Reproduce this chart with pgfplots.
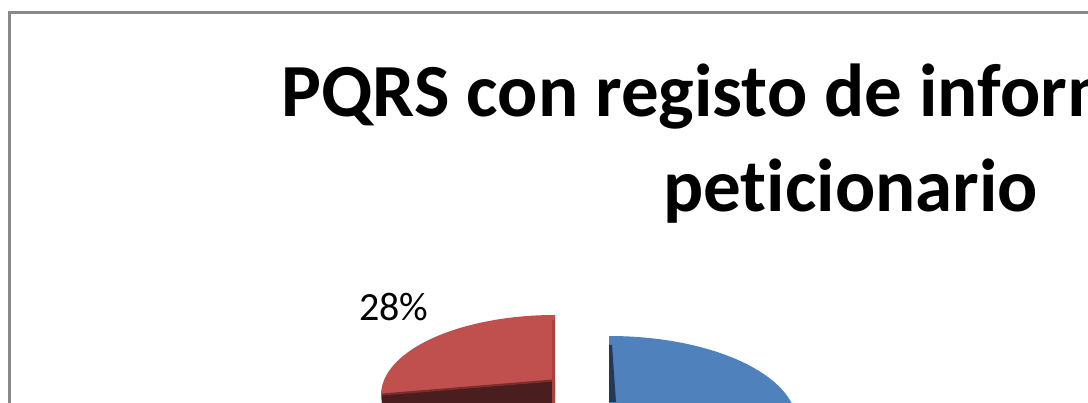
\documentclass[border=0pt]{standalone}
\usepackage{fontspec}
\setmainfont{Carlito}[Ligatures={NoCommon}]
\usepackage{pgfplots}
\usepackage{pgfplotstable}
\pgfplotsset{compat=1.18}
\definecolor{pieRed}{HTML}{C0504D}
\definecolor{pieRedEdge}{HTML}{A8423F}
\definecolor{pieRedDark}{HTML}{4A1E1E}
\definecolor{pieRedMid}{HTML}{7A2F2D}
\definecolor{pieBlue}{HTML}{4F81BD}
\definecolor{pieBlueDark}{HTML}{22395A}
\definecolor{frameGray}{HTML}{898989}

% slice values (percent)
\pgfplotstableread{
slice value
blue 72
red 28
}\piedata
\pgfplotstablegetelem{0}{value}\of\piedata \let\valBlue\pgfplotsretval
\pgfplotstablegetelem{1}{value}\of\piedata \let\valRed\pgfplotsretval
\pgfmathsetmacro\redEnd{90+3.6*\valRed}
\pgfmathsetmacro\blueEnd{90-3.6*\valBlue}

\begin{document}
\begin{tikzpicture}
\path[use as bounding box] (0,0) rectangle (544pt,201pt);
\clip (0,0) rectangle (544pt,201pt);
\begin{axis}[at={(0pt,0pt)}, anchor=south west, scale only axis,
  width=544pt, height=201pt, xmin=0, xmax=1088, ymin=0, ymax=402,
  hide axis, clip=true]
% chart frame
\draw[frameGray, line width=1.5pt] (axis cs:9.5,-200) -- (axis cs:9.5,389.5) -- (axis cs:1300,389.5);
% red slice (exploded), top face
\fill[pieRed] (axis cs:555,87) arc[start angle=90, end angle=\redEnd, x radius=87pt, y radius=40pt]
   -- (axis cs:555,7) -- cycle;
% red slice cut face
\fill[pieRedDark] (axis cs:555,21) -- (axis cs:382,7) -- (axis cs:382,-40) -- (axis cs:555,-40) -- cycle;
\draw[pieRedMid, line width=1pt] (axis cs:382,7.5) -- (axis cs:553,21.5);
\fill[pieRedEdge] (axis cs:552,82) rectangle (axis cs:555,-10);
% blue slice, top face
\fill[pieBlue] (axis cs:609,66) arc[start angle=90, end angle=\blueEnd, x radius=94pt, y radius=44pt]
   -- (axis cs:609,-22) -- cycle;
\fill[pieBlueDark] (axis cs:609,57) -- (axis cs:612,57) -- (axis cs:616,0) -- (axis cs:609,0) -- cycle;
% label
\node[anchor=base west, inner sep=0pt, font=\fontsize{20}{24}\selectfont] at (axis cs:359,81) {28\%};
% title
\node[anchor=base west, inner sep=0pt, font=\bfseries\fontsize{37.5}{45}\selectfont] at (axis cs:281,285) {PQRS con registo de información del};
\node[anchor=base west, inner sep=0pt, font=\bfseries\fontsize{37.5}{45}\selectfont] at (axis cs:663,190) {peticionario};
\end{axis}
\end{tikzpicture}
\end{document}
